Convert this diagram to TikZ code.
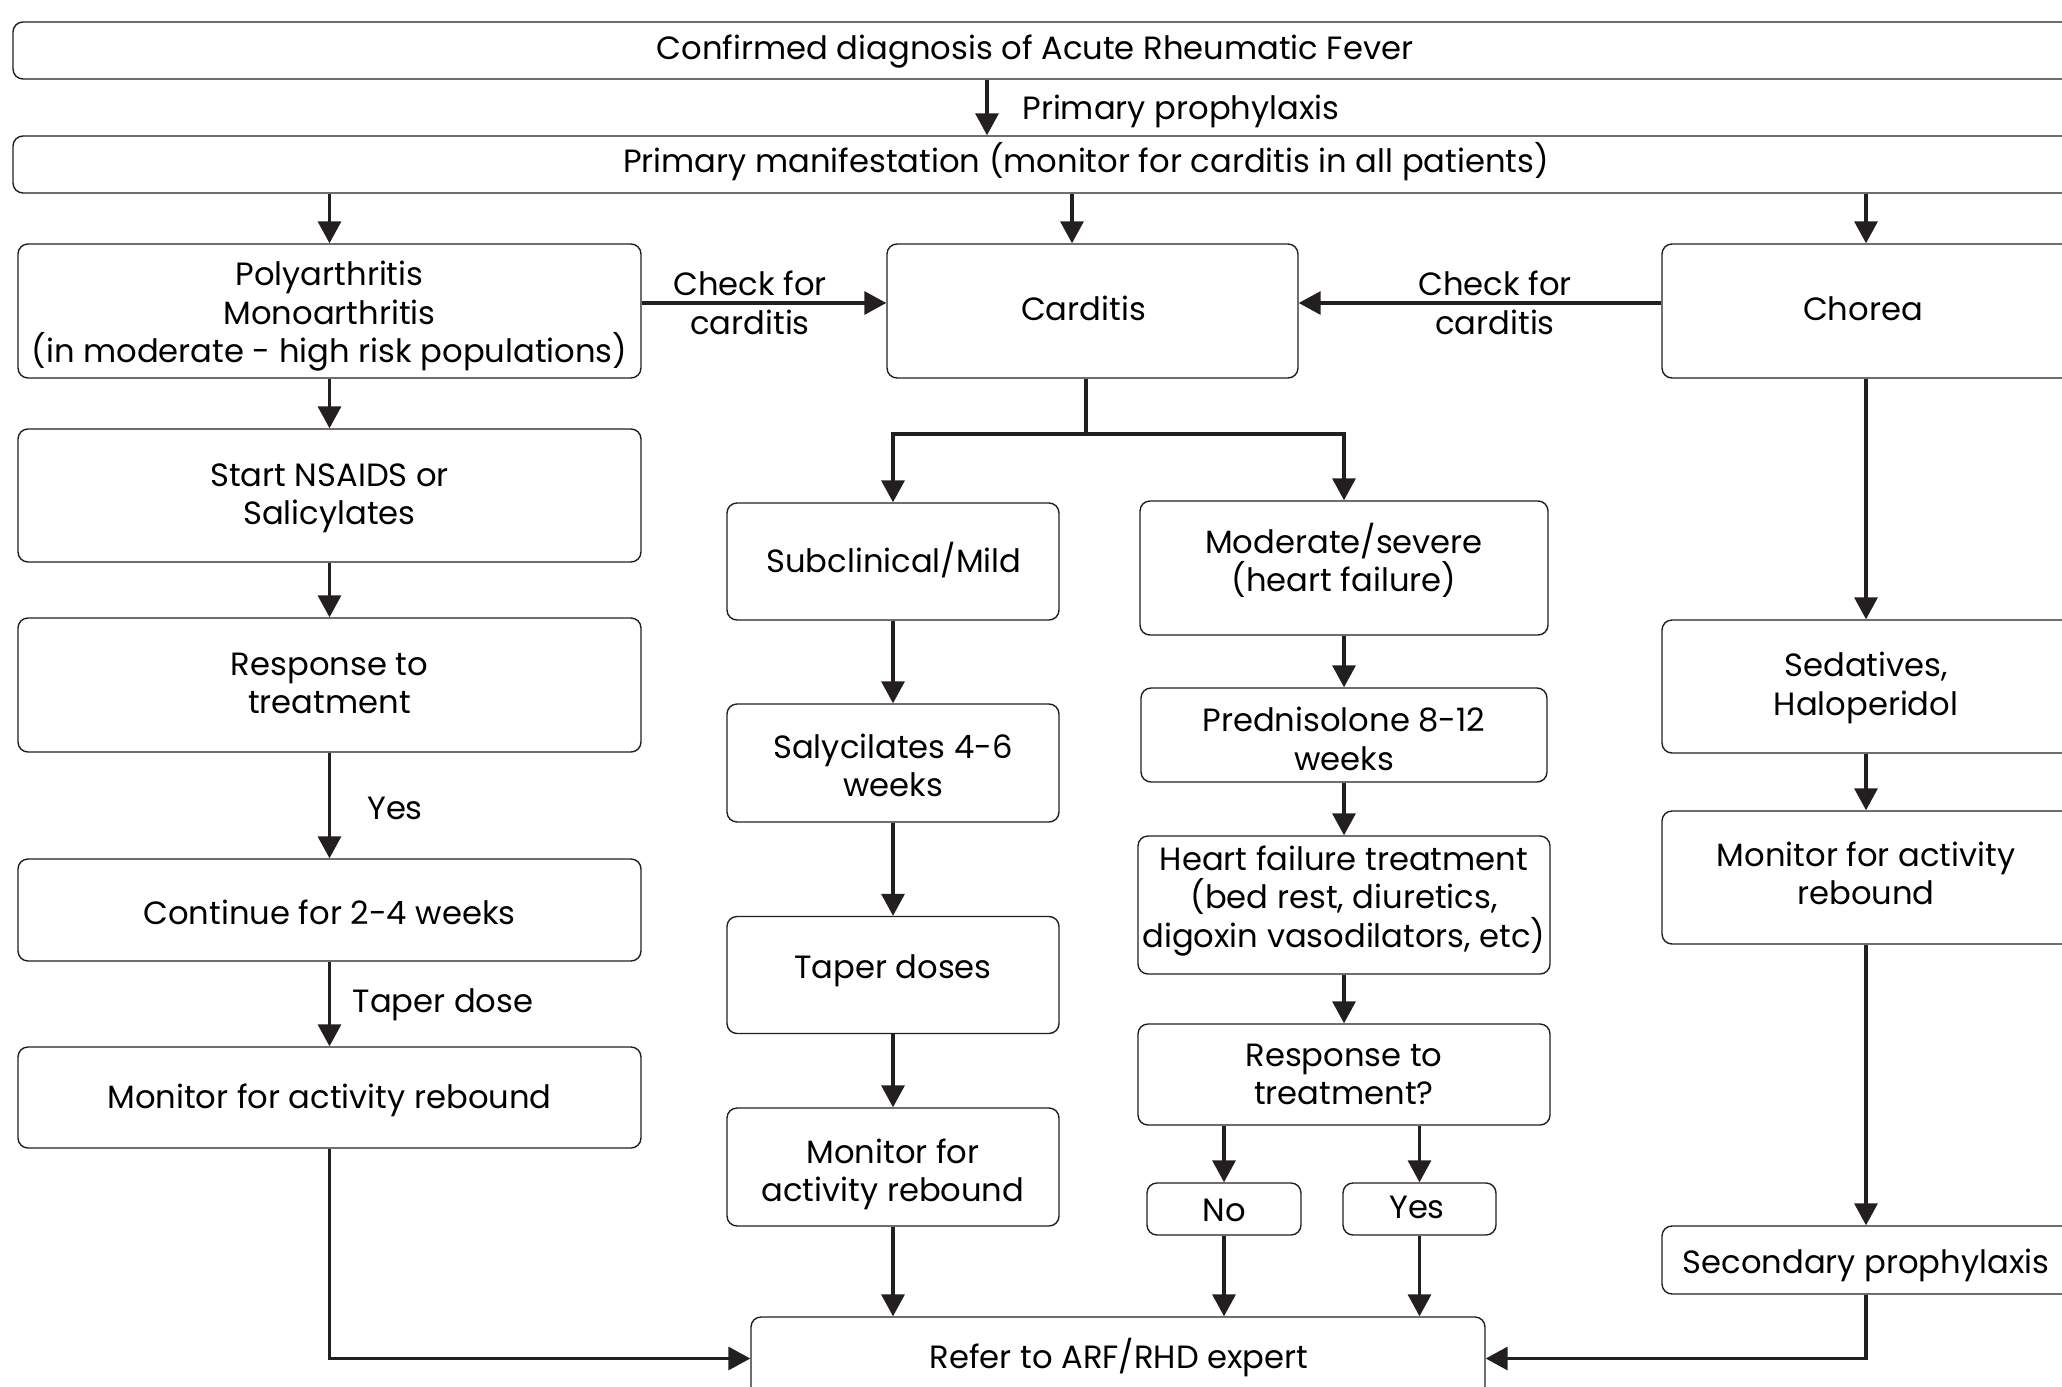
\documentclass[tikz,border=0pt]{standalone}
\usepackage{fontspec}
\setmainfont{Poppins}
\usetikzlibrary{arrows.meta}
\definecolor{ink}{HTML}{231F20}
\newcommand\myfs{\fontsize{16.1}{19.2}\selectfont}
\begin{document}
\begin{tikzpicture}[x=0.5pt,y=-0.5pt,
  box/.style={draw=ink, line width=0.7pt, rounded corners=5pt, inner sep=0pt},
  sz/.style 2 args={minimum width=#1*0.5pt, minimum height=#2*0.5pt},
  ln/.style={draw=ink, line width=1.7pt},
  arr/.style={ln, -{Triangle[length=11pt,width=11.5pt]}},
  txt/.style={inner sep=0pt, align=center, font=\myfs, text=black}]
\clip (0,0) rectangle (2062,1387);
\fill[white] (0,0) rectangle (2062,1387);
% top boxes
\node[box,sz={2067}{57}] (T1) at (1046.5,50.5) {};
\node[txt] (T1t) at (1035,51.8) {Confirmed diagnosis of Acute Rheumatic Fever};
\node[box,sz={2067}{57}] (T2) at (1046.5,164.5) {};
\node[txt] (T2t) at (1086,162) {Primary manifestation (monitor for carditis in all patients)};
\coordinate (xa) at (987,0);
\draw[arr] (xa |- T1.south) -- (xa |- T2.north);
\node[txt, anchor=west] (pp) at (1022,111) {Primary prophylaxis};
% row 3
\node[box,sz={623}{134}] (Poly) at (329.5,311) {};
\node[txt] (Polyt) at (329.5,316.3) {Polyarthritis\\Monoarthritis\\(in moderate - high risk populations)};
\node[box,sz={411}{134}] (Card) at (1092.5,311) {};
\node[txt] (Cardt) at (1083.5,308.4) {Carditis};
\node[box,sz={412}{134}] (Chor) at (1868,311) {};
\node[txt] (Chort) at (1863,308.4) {Chorea};
\coordinate (xl) at (329.5,0);
\coordinate (xm) at (1072,0);
\coordinate (xr) at (1866,0);
\draw[arr] (xl |- T2.south) -- (Poly.north);
\draw[arr] (xm |- T2.south) -- (xm |- Card.north);
\draw[arr] (xr |- T2.south) -- (xr |- Chor.north);
\coordinate (ycf) at (0,303);
\draw[arr] (Poly.east |- ycf) -- (Card.west |- ycf);
\draw[arr] (Chor.west |- ycf) -- (Card.east |- ycf);
\node[txt] (cf1) at (750,303) {Check for\\carditis};
\node[txt] (cf2) at (1495,303) {Check for\\carditis};
% left column
\node[box,sz={623}{133}] (Start) at (329.5,495.5) {};
\node[txt] (Startt) at (329.5,498.1) {Start NSAIDS or\\Salicylates};
\node[box,sz={623}{134}] (Resp1) at (329.5,685) {};
\node[txt] (Resp1t) at (329.5,683.7) {Response to\\treatment};
\node[box,sz={623}{102}] (Cont) at (329.5,910) {};
\node[txt] (Contt) at (329.5,912.6) {Continue for 2-4 weeks};
\node[box,sz={623}{101}] (Mon1) at (329.5,1097.5) {};
\node[txt] (Mon1t) at (329.5,1100.1) {Monitor for activity rebound};
\draw[arr] (Poly.south) -- (Start.north);
\draw[arr] (Start.south) -- (Resp1.north);
\draw[arr] (Resp1.south) -- (Cont.north);
\node[txt] (yes1) at (395,808.6) {Yes};
\draw[arr] (Cont.south) -- (Mon1.north);
\node[txt] (tap1) at (443,1004.3) {Taper dose};
% carditis branch
\node[box,sz={332}{117}] (Sub) at (893,561.5) {};
\node[txt] (Subt) at (894,560.2) {Subclinical/Mild};
\node[box,sz={408}{134}] (Mod) at (1344,568) {};
\node[txt] (Modt) at (1344,560.1) {Moderate/severe\\(heart failure)};
\coordinate (br) at (1086,434);
\draw[ln] (Card.south -| br) -- (br);
\draw[arr] (br) -| (Sub.north);
\draw[arr] (br) -| (Mod.north);
% middle column
\node[box,sz={332}{118}] (Sal) at (893,763) {};
\node[txt] (Salt) at (893,765.6) {Salycilates 4-6\\weeks};
\node[box,sz={332}{117}] (Tap) at (893,975) {};
\node[txt] (Tapt) at (893,971) {Taper doses};
\node[box,sz={332}{118}] (Mon2) at (893,1167) {};
\node[txt] (Mon2t) at (893,1174.2) {Monitor for\\activity rebound};
\draw[arr] (Sub.south) -- (Sal.north);
\draw[arr] (Sal.south) -- (Tap.north);
\draw[arr] (Tap.south) -- (Mon2.north);
% moderate column
\node[box,sz={406}{94}] (Pred) at (1344,735) {};
\node[txt] (Predt) at (1344,739) {Prednisolone 8-12\\weeks};
\node[box,sz={412}{138}] (HF) at (1344,905) {};
\node[txt] (HFt) at (1344,901) {Heart failure treatment\\(bed rest, diuretics,\\digoxin vasodilators, etc)};
\node[box,sz={412}{101}] (Resp2) at (1344,1074.5) {};
\node[txt] (Resp2t) at (1344,1074.5) {Response to\\treatment?};
\node[box,sz={154}{52}] (No) at (1224,1209) {};
\node[txt] (Not) at (1224,1210.3) {No};
\node[box,sz={153}{52}] (Yes) at (1419.5,1209) {};
\node[txt] (Yest) at (1417,1207.7) {Yes};
\draw[arr] (Mod.south) -- (Pred.north);
\draw[arr] (Pred.south) -- (HF.north);
\draw[arr] (HF.south) -- (Resp2.north);
\draw[arr] (No.north |- Resp2.south) -- (No.north);
\draw[arr] (Yes.north |- Resp2.south) -- (Yes.north);
% refer
\node[box,sz={734}{83}] (Refer) at (1118,1358.5) {};
\node[txt] (Refert) at (1119,1357.2) {Refer to ARF/RHD expert};
\draw[arr] (Mon2.south) -- (Mon2.south |- Refer.north);
\draw[arr] (No.south) -- (No.south |- Refer.north);
\draw[arr] (Yes.south) -- (Yes.south |- Refer.north);
\draw[arr] (Mon1.south) |- (Refer.west);
% right column
\node[box,sz={412}{133}] (Sed) at (1868,686.5) {};
\node[txt] (Sedt) at (1866,687.8) {Sedatives,\\Haloperidol};
\node[box,sz={412}{133}] (Mon3) at (1868,877.5) {};
\node[txt] (Mon3t) at (1866,873.5) {Monitor for activity\\rebound};
\node[box,sz={412}{68}] (Sec) at (1868,1260) {};
\node[txt] (Sect) at (1866,1265.3) {Secondary prophylaxis};
\draw[arr] (xr |- Chor.south) -- (xr |- Sed.north);
\draw[arr] (xr |- Sed.south) -- (xr |- Mon3.north);
\draw[arr] (xr |- Mon3.south) -- (xr |- Sec.north);
\draw[arr] (xr |- Sec.south) |- (Refer.east);
\end{tikzpicture}
\end{document}
